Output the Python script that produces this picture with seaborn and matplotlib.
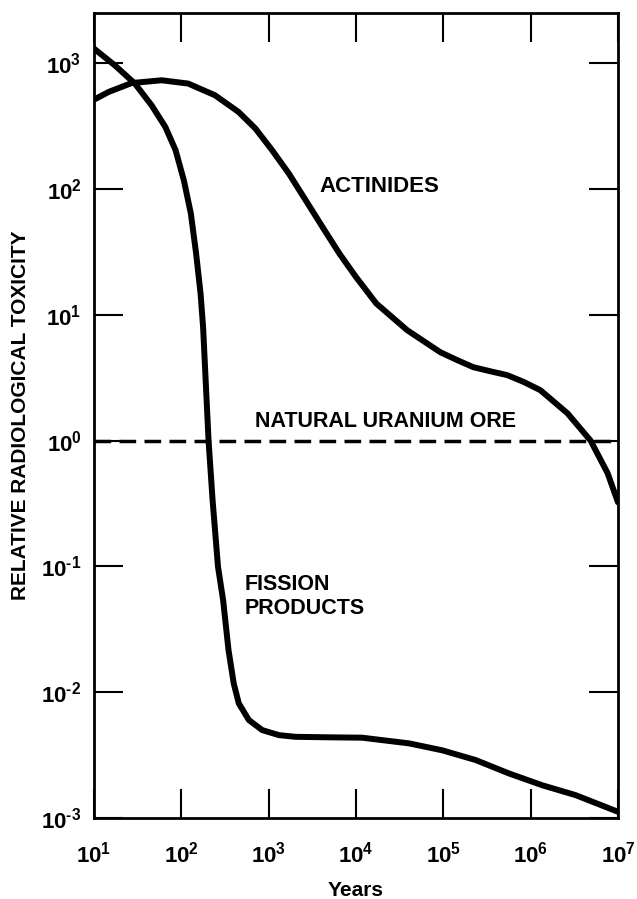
import numpy as np
import matplotlib
matplotlib.use("Agg")
import matplotlib.pyplot as plt
import seaborn as sns
import pandas as pd

# values (years, relative toxicity)
fission_years = [10, 17.3, 29.4, 45.6, 65.6, 85.9, 107, 128.5, 147.6, 166, 177.5, 205,
                 228, 263, 301, 347, 398, 455, 593, 843, 1309, 2028, 4890, 11750,
                 40500, 97500, 234000, 565000, 1.36e6, 3.27e6, 1.0e7]
fission_tox = [1309, 964, 690, 464, 312, 204, 117, 64.0, 30.8, 14.8, 8.0, 1.0,
               0.336, 0.0993, 0.0539, 0.0216, 0.01175, 0.00815, 0.00601, 0.00500,
               0.00456, 0.00442, 0.00438, 0.00435, 0.00392, 0.00345, 0.00289,
               0.00226, 0.00182, 0.00152, 0.00112]

actinide_years = [10, 14.7, 27.0, 59.6, 120, 243, 453, 705, 1094, 1702, 2655, 4130,
                  6440, 10000, 17100, 38600, 92300, 143900, 220000, 346000, 538000,
                  832000, 1.29e6, 2.64e6, 4.86e6, 7.6e6, 1.0e7]
actinide_tox = [514, 592, 697, 733, 690, 557, 410, 303, 204, 133, 81.5, 50.0,
                30.8, 20.0, 12.3, 7.55, 5.05, 4.37, 3.84, 3.56, 3.32,
                2.93, 2.52, 1.65, 1.0, 0.552, 0.323]

ore_level = 1.0

x_ticks = [1e1, 1e2, 1e3, 1e4, 1e5, 1e6, 1e7]
x_tick_labels = [r"$10^{1}$", r"$10^{2}$", r"$10^{3}$", r"$10^{4}$", r"$10^{5}$",
                 r"$10^{6}$", r"$10^{7}$"]
y_ticks = [1e-3, 1e-2, 1e-1, 1e0, 1e1, 1e2, 1e3]
y_tick_labels = [r"$10^{\text{-}3}$", r"$10^{\text{-}2}$", r"$10^{\text{-}1}$",
                 r"$10^{0}$", r"$10^{1}$", r"$10^{2}$", r"$10^{3}$"]

sns.set_theme(style="ticks")
plt.rcParams["font.family"] = ["Liberation Sans", "DejaVu Sans"]
plt.rcParams["font.weight"] = "bold"
plt.rcParams["text.color"] = "black"
plt.rcParams["axes.labelcolor"] = "black"
plt.rcParams["mathtext.fontset"] = "custom"
plt.rcParams["mathtext.rm"] = "Liberation Sans:bold"
plt.rcParams["mathtext.it"] = "Liberation Sans:bold"
plt.rcParams["mathtext.bf"] = "Liberation Sans:bold"

fig = plt.figure(figsize=(6.37, 8.99), dpi=100)
ax = fig.add_axes([94 / 637, 81 / 899, 524 / 637, 805 / 899])
ax.set_xscale("log")
ax.set_yscale("log")

fp = pd.DataFrame({"years": fission_years, "tox": fission_tox})
ac = pd.DataFrame({"years": actinide_years, "tox": actinide_tox})
sns.lineplot(data=fp, x="years", y="tox", color="black", lw=4.3, ax=ax,
             solid_joinstyle="round", solid_capstyle="round")
sns.lineplot(data=ac, x="years", y="tox", color="black", lw=4.3, ax=ax,
             solid_joinstyle="round", solid_capstyle="round")
ax.axhline(ore_level, color="black", lw=2.5, ls=(0, (4.8, 2.4)))

ax.set_xlim(1e1, 1e7)
ax.set_ylim(1e-3, 10 ** 3.4)
ax.set_xticks(x_ticks, x_tick_labels)
ax.set_yticks(y_ticks, y_tick_labels)
ax.minorticks_off()
ax.tick_params(axis="both", which="major", direction="in", length=21, width=1.5,
               top=True, right=True, labelsize=16, color="black", labelcolor="black")
ax.tick_params(axis="x", pad=17)
ax.tick_params(axis="y", pad=9)
for sp in ax.spines.values():
    sp.set_linewidth(2)
    sp.set_color("black")

ax.set_xlabel("Years", fontsize=15, fontweight="bold", labelpad=10, color="black")
ax.set_ylabel("RELATIVE RADIOLOGICAL TOXICITY", fontsize=15, fontweight="bold",
              labelpad=8, color="black")

ax.text(0.431, 0.784, "ACTINIDES", transform=ax.transAxes, fontsize=16,
        fontweight="bold", ha="left", va="center", color="black")
ax.text(0.307, 0.492, "NATURAL URANIUM ORE", transform=ax.transAxes, fontsize=15.5,
        fontweight="bold", ha="left", va="center", color="black")
ax.text(0.288, 0.275, "FISSION\nPRODUCTS", transform=ax.transAxes, fontsize=15.5,
        fontweight="bold", ha="left", va="center", linespacing=1.2, color="black")

fig.savefig("out.png", dpi=100, facecolor="white")
